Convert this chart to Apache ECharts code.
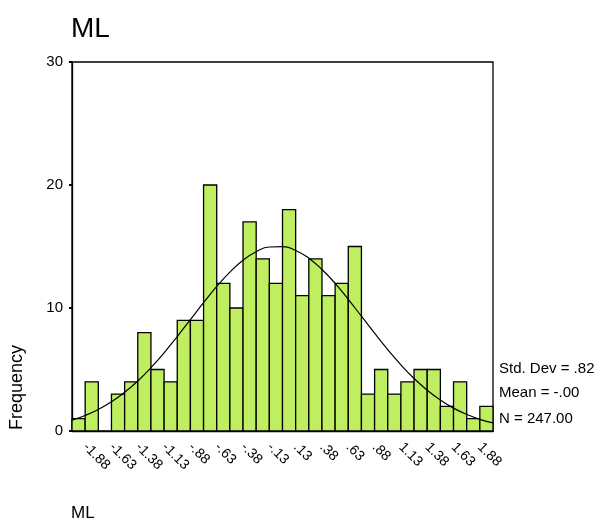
<!DOCTYPE html>
<html>
<head>
<meta charset="utf-8">
<script src="https://cdn.jsdelivr.net/npm/echarts@6/dist/echarts.min.js"></script>
<style>
html,body{margin:0;padding:0;background:#fff;}
#chart{width:601px;height:524px;}
</style>
</head>
<body>
<div id="chart"></div>
<script>
// ---- data ----
const binLowerEdges = [-2, -1.875, -1.75, -1.625, -1.5, -1.375, -1.25, -1.125, -1, -0.875, -0.75, -0.625, -0.5, -0.375, -0.25, -0.125,
  0, 0.125, 0.25, 0.375, 0.5, 0.625, 0.75, 0.875, 1, 1.125, 1.25, 1.375, 1.5, 1.625, 1.75, 1.875];
const binWidth = 0.125;
const frequencies = [1, 4, 0, 3, 4, 8, 5, 4, 9, 9, 20, 12, 10, 17, 14, 12, 18, 11, 14, 11, 12, 15, 3, 5, 3, 4, 5, 5, 2, 4, 1, 2];
const xTickLabels = ['-1.88', '-1.63', '-1.38', '-1.13', '-.88', '-.63', '-.38', '-.13', '.13', '.38', '.63', '.88', '1.13', '1.38', '1.63', '1.88'];
const yTicks = [0, 10, 20, 30];
const curveX = [-2, -1.875, -1.75, -1.625, -1.5, -1.375, -1.25, -1.125, -1, -0.875, -0.75, -0.625, -0.5, -0.375, -0.25, -0.125,
  0, 0.125, 0.25, 0.375, 0.5, 0.625, 0.75, 0.875, 1, 1.125, 1.25, 1.375, 1.5, 1.625, 1.75, 1.875, 2];
const curveY = [0.89, 1.26, 1.75, 2.37, 3.15, 4.07, 5.15, 6.36, 7.68, 9.06, 10.43, 11.75, 12.92, 13.89, 14.58, 14.96,
  14.99, 14.68, 14.05, 13.13, 12.00, 10.70, 9.33, 7.95, 6.62, 5.38, 4.27, 3.32, 2.52, 1.86, 1.35, 0.95, 0.66];
const statsLines = ['Std. Dev = .82', 'Mean = -.00', 'N = 247.00'];
const titleText = 'ML';
const yAxisTitle = 'Frequency';
const xAxisTitle = 'ML';

// ---- build ----
const FONT = '"Liberation Sans", Arial, sans-serif';
const barData = binLowerEdges.map((lo, i) => [lo, lo + binWidth, frequencies[i]]);
const lineData = curveX.map((x, i) => [x, curveY[i]]);
const xMin = binLowerEdges[0];
const xMax = binLowerEdges[binLowerEdges.length - 1] + binWidth;

const chart = echarts.init(document.getElementById('chart'), null, {renderer: 'canvas'});
chart.setOption({
  animation: false,
  backgroundColor: '#ffffff',
  title: {
    text: titleText, left: 71, top: 15, padding: 0,
    textStyle: {fontFamily: FONT, fontSize: 28, fontWeight: 'normal', color: '#000'}
  },
  grid: {left: 72, right: 108, top: 62, bottom: 93, show: true, borderColor: '#000', borderWidth: 1.3, backgroundColor: 'transparent'},
  xAxis: {
    type: 'value', min: xMin, max: xMax, interval: binWidth,
    axisLine: {show: true, onZero: false, lineStyle: {color: '#000', width: 1.3}},
    axisTick: {show: false},
    splitLine: {show: false},
    axisLabel: {
      rotate: -45, margin: 14, fontFamily: FONT, fontSize: 14, color: '#000',
      showMinLabel: true, showMaxLabel: true, hideOverlap: false,
      formatter: function (v) {
        const idx = Math.round((v - xMin) / binWidth);
        if (idx % 2 === 1) return xTickLabels[(idx - 1) / 2] || '';
        return '';
      }
    }
  },
  yAxis: {
    type: 'value', min: yTicks[0], max: yTicks[yTicks.length - 1], interval: yTicks[1] - yTicks[0],
    axisLine: {show: true, onZero: false, lineStyle: {color: '#000', width: 1.3}},
    axisTick: {show: true, length: 3, lineStyle: {color: '#000', width: 2}},
    splitLine: {show: false},
    axisLabel: {margin: 9, fontFamily: FONT, fontSize: 15, color: '#000'}
  },
  series: [
    {
      type: 'custom',
      data: barData,
      encode: {x: [0, 1], y: 2},
      renderItem: function (params, api) {
        const v = api.value(2);
        if (!v) return null;
        const p0 = api.coord([api.value(0), v]);
        const p1 = api.coord([api.value(1), 0]);
        return {
          type: 'rect',
          shape: {x: p0[0], y: p0[1], width: p1[0] - p0[0], height: p1[1] - p0[1]},
          style: {fill: '#bfee60', stroke: '#000', lineWidth: 1.3}
        };
      },
      z: 2
    },
    {
      type: 'line',
      data: lineData,
      smooth: true,
      showSymbol: false,
      lineStyle: {color: '#000', width: 1.2},
      z: 3
    }
  ],
  graphic: [
    {type: 'text', left: 499, top: 361, style: {text: statsLines[0], font: '15px ' + FONT, fill: '#000'}},
    {type: 'text', left: 499, top: 385, style: {text: statsLines[1], font: '15px ' + FONT, fill: '#000'}},
    {type: 'text', left: 499, top: 411, style: {text: statsLines[2], font: '15px ' + FONT, fill: '#000'}},
    {type: 'text', x: 8, y: 430, rotation: Math.PI / 2,
      style: {text: yAxisTitle, font: '18px ' + FONT, fill: '#000', align: 'left', verticalAlign: 'top'}},
    {type: 'text', left: 71, top: 505, style: {text: xAxisTitle, font: '17px ' + FONT, fill: '#000'}}
  ]
});
</script>
</body>
</html>
